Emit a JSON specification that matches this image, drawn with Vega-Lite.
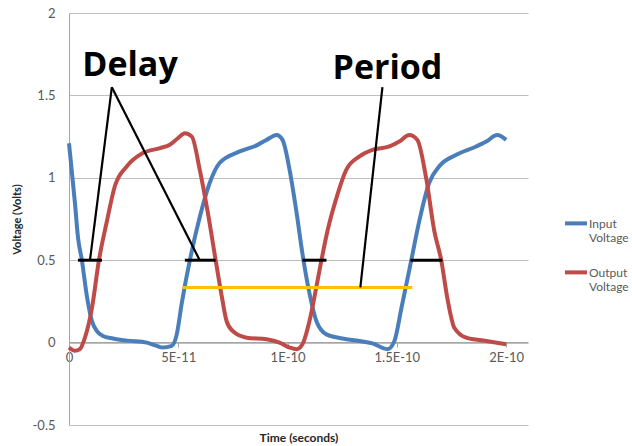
{
  "$schema": "https://vega.github.io/schema/vega-lite/v6.json",
  "width": 459,
  "height": 412,
  "autosize": {"type": "none"},
  "padding": {"left": 69, "top": 13, "right": 104, "bottom": 21},
  "background": "white",
  "config": {"view": {"stroke": null}, "font": "Lato"},
  "datasets": {
    "curves": [
      {"series": "Input Voltage", "t": 0, "v": 1.21},
      {"series": "Input Voltage", "t": 0.27e-11, "v": 0.85},
      {"series": "Input Voltage", "t": 0.41e-11, "v": 0.64},
      {"series": "Input Voltage", "t": 0.59e-11, "v": 0.5},
      {"series": "Input Voltage", "t": 0.82e-11, "v": 0.28},
      {"series": "Input Voltage", "t": 1.05e-11, "v": 0.13},
      {"series": "Input Voltage", "t": 1.28e-11, "v": 0.07},
      {"series": "Input Voltage", "t": 1.55e-11, "v": 0.04},
      {"series": "Input Voltage", "t": 2.01e-11, "v": 0.025},
      {"series": "Input Voltage", "t": 2.65e-11, "v": 0.012},
      {"series": "Input Voltage", "t": 3.56e-11, "v": 0.0},
      {"series": "Input Voltage", "t": 4.02e-11, "v": -0.02},
      {"series": "Input Voltage", "t": 4.29e-11, "v": -0.03},
      {"series": "Input Voltage", "t": 4.70e-11, "v": -0.02},
      {"series": "Input Voltage", "t": 4.93e-11, "v": 0.05},
      {"series": "Input Voltage", "t": 5.16e-11, "v": 0.24},
      {"series": "Input Voltage", "t": 5.53e-11, "v": 0.5},
      {"series": "Input Voltage", "t": 5.98e-11, "v": 0.76},
      {"series": "Input Voltage", "t": 6.44e-11, "v": 0.97},
      {"series": "Input Voltage", "t": 6.89e-11, "v": 1.09},
      {"series": "Input Voltage", "t": 7.81e-11, "v": 1.16},
      {"series": "Input Voltage", "t": 8.63e-11, "v": 1.2},
      {"series": "Input Voltage", "t": 9.04e-11, "v": 1.23},
      {"series": "Input Voltage", "t": 9.50e-11, "v": 1.26},
      {"series": "Input Voltage", "t": 9.77e-11, "v": 1.23},
      {"series": "Input Voltage", "t": 10.09e-11, "v": 1.05},
      {"series": "Input Voltage", "t": 10.41e-11, "v": 0.79},
      {"series": "Input Voltage", "t": 10.68e-11, "v": 0.54},
      {"series": "Input Voltage", "t": 11.0e-11, "v": 0.30},
      {"series": "Input Voltage", "t": 11.32e-11, "v": 0.13},
      {"series": "Input Voltage", "t": 11.78e-11, "v": 0.05},
      {"series": "Input Voltage", "t": 12.51e-11, "v": 0.025},
      {"series": "Input Voltage", "t": 13.29e-11, "v": 0.01},
      {"series": "Input Voltage", "t": 13.88e-11, "v": -0.005},
      {"series": "Input Voltage", "t": 14.57e-11, "v": -0.04},
      {"series": "Input Voltage", "t": 14.89e-11, "v": 0.01},
      {"series": "Input Voltage", "t": 15.21e-11, "v": 0.21},
      {"series": "Input Voltage", "t": 15.66e-11, "v": 0.5},
      {"series": "Input Voltage", "t": 16.03e-11, "v": 0.74},
      {"series": "Input Voltage", "t": 16.48e-11, "v": 0.97},
      {"series": "Input Voltage", "t": 16.94e-11, "v": 1.07},
      {"series": "Input Voltage", "t": 17.72e-11, "v": 1.14},
      {"series": "Input Voltage", "t": 18.63e-11, "v": 1.19},
      {"series": "Input Voltage", "t": 19.09e-11, "v": 1.22},
      {"series": "Input Voltage", "t": 19.59e-11, "v": 1.26},
      {"series": "Input Voltage", "t": 20.0e-11, "v": 1.23},
      {"series": "Output Voltage", "t": 0, "v": -0.03},
      {"series": "Output Voltage", "t": 0.27e-11, "v": -0.05},
      {"series": "Output Voltage", "t": 0.50e-11, "v": -0.04},
      {"series": "Output Voltage", "t": 0.73e-11, "v": 0.03},
      {"series": "Output Voltage", "t": 1.05e-11, "v": 0.21},
      {"series": "Output Voltage", "t": 1.37e-11, "v": 0.5},
      {"series": "Output Voltage", "t": 1.74e-11, "v": 0.74},
      {"series": "Output Voltage", "t": 2.10e-11, "v": 0.95},
      {"series": "Output Voltage", "t": 2.65e-11, "v": 1.07},
      {"series": "Output Voltage", "t": 3.38e-11, "v": 1.15},
      {"series": "Output Voltage", "t": 4.16e-11, "v": 1.18},
      {"series": "Output Voltage", "t": 4.61e-11, "v": 1.2},
      {"series": "Output Voltage", "t": 4.98e-11, "v": 1.24},
      {"series": "Output Voltage", "t": 5.30e-11, "v": 1.27},
      {"series": "Output Voltage", "t": 5.62e-11, "v": 1.25},
      {"series": "Output Voltage", "t": 5.98e-11, "v": 1.05},
      {"series": "Output Voltage", "t": 6.35e-11, "v": 0.79},
      {"series": "Output Voltage", "t": 6.71e-11, "v": 0.5},
      {"series": "Output Voltage", "t": 6.99e-11, "v": 0.28},
      {"series": "Output Voltage", "t": 7.21e-11, "v": 0.13},
      {"series": "Output Voltage", "t": 7.49e-11, "v": 0.07},
      {"series": "Output Voltage", "t": 8.13e-11, "v": 0.03},
      {"series": "Output Voltage", "t": 9.04e-11, "v": 0.02},
      {"series": "Output Voltage", "t": 9.63e-11, "v": 0.0},
      {"series": "Output Voltage", "t": 10.09e-11, "v": -0.03},
      {"series": "Output Voltage", "t": 10.41e-11, "v": -0.04},
      {"series": "Output Voltage", "t": 10.68e-11, "v": -0.01},
      {"series": "Output Voltage", "t": 11.0e-11, "v": 0.13},
      {"series": "Output Voltage", "t": 11.32e-11, "v": 0.34},
      {"series": "Output Voltage", "t": 11.55e-11, "v": 0.5},
      {"series": "Output Voltage", "t": 11.83e-11, "v": 0.68},
      {"series": "Output Voltage", "t": 12.24e-11, "v": 0.88},
      {"series": "Output Voltage", "t": 12.69e-11, "v": 1.05},
      {"series": "Output Voltage", "t": 13.29e-11, "v": 1.13},
      {"series": "Output Voltage", "t": 13.88e-11, "v": 1.17},
      {"series": "Output Voltage", "t": 14.66e-11, "v": 1.19},
      {"series": "Output Voltage", "t": 15.11e-11, "v": 1.22},
      {"series": "Output Voltage", "t": 15.57e-11, "v": 1.26},
      {"series": "Output Voltage", "t": 15.94e-11, "v": 1.23},
      {"series": "Output Voltage", "t": 16.35e-11, "v": 0.99},
      {"series": "Output Voltage", "t": 16.71e-11, "v": 0.68},
      {"series": "Output Voltage", "t": 17.03e-11, "v": 0.5},
      {"series": "Output Voltage", "t": 17.31e-11, "v": 0.27},
      {"series": "Output Voltage", "t": 17.63e-11, "v": 0.09},
      {"series": "Output Voltage", "t": 18.17e-11, "v": 0.03},
      {"series": "Output Voltage", "t": 19.09e-11, "v": 0.01},
      {"series": "Output Voltage", "t": 20.0e-11, "v": -0.01}
    ],
    "pointers": [
      {"t": 1.96e-11, "v": 1.55, "t2": 0.96e-11, "v2": 0.5},
      {"t": 1.96e-11, "v": 1.55, "t2": 5.98e-11, "v2": 0.5},
      {"t": 14.34e-11, "v": 1.55, "t2": 13.33e-11, "v2": 0.335}
    ],
    "segments": [
      {"t": 0.41e-11, "v": 0.5, "t2": 1.51e-11, "v2": 0.5},
      {"t": 5.30e-11, "v": 0.5, "t2": 6.71e-11, "v2": 0.5},
      {"t": 10.68e-11, "v": 0.5, "t2": 11.78e-11, "v2": 0.5},
      {"t": 15.62e-11, "v": 0.5, "t2": 17.08e-11, "v2": 0.5}
    ],
    "period": [
      {"t": 5.2e-11, "v": 0.335, "t2": 15.7e-11, "v2": 0.335}
    ],
    "labels": [
      {"label": "Delay", "t": 2.79e-11, "v": 1.62},
      {"label": "Period", "t": 14.57e-11, "v": 1.6}
    ]
  },
  "encoding": {
    "x": {
      "field": "t",
      "type": "quantitative",
      "scale": {"domain": [0, 2.1e-10], "nice": false, "zero": false},
      "axis": {
        "values": [0, 5e-11, 1e-10, 1.5e-10, 2e-10],
        "labelExpr": "datum.value == 0 ? '0' : upper(format(datum.value, '~e'))",
        "labelFlush": false,
        "offset": -83,
        "grid": false,
        "domainColor": "#a6a6a6",
        "tickColor": "#a6a6a6",
        "tickSize": 5,
        "labelPadding": 4,
        "labelColor": "#595959",
        "labelFontSize": 13,
        "labelFont": "Lato",
        "title": "Time (seconds)",
        "titleFont": "Lato",
        "titleFontSize": 12,
        "titleFontWeight": "bold",
        "titleColor": "#262626",
        "titleY": 95,
        "titleBaseline": "middle"
      }
    },
    "y": {
      "field": "v",
      "type": "quantitative",
      "scale": {"domain": [-0.5, 2], "nice": false, "zero": false},
      "axis": {
        "values": [-0.5, 0, 0.5, 1, 1.5, 2],
        "labelExpr": "datum.value < 0 ? '-' + format(-datum.value, '~g') : format(datum.value, '~g')",
        "grid": true,
        "gridColor": "#bfbfbf",
        "domainColor": "#a6a6a6",
        "ticks": false,
        "labelPadding": 14,
        "labelFontSize": 13,
        "labelFont": "Lato",
        "labelColor": "#595959",
        "title": "Voltage (Volts)",
        "titleFont": "Lato",
        "titleFontSize": 11,
        "titleFontWeight": "bold",
        "titleColor": "#262626",
        "titlePadding": 10
      }
    }
  },
  "layer": [
    {
      "data": {"name": "curves"},
      "mark": {"type": "line", "strokeWidth": 4, "interpolate": "monotone"},
      "encoding": {
        "color": {
          "field": "series",
          "type": "nominal",
          "scale": {"domain": ["Input Voltage", "Output Voltage"], "range": ["#4A7EBB", "#BE4B48"]},
          "legend": {
            "title": null,
            "orient": "none",
            "legendX": 494,
            "legendY": 202,
            "symbolType": "M-1,-0.42L1,-0.42",
            "symbolStrokeWidth": 4,
            "symbolSize": 484,
            "labelFont": "Lato",
            "labelFontSize": 12,
            "labelColor": "#595959",
            "labelExpr": "split(datum.label, ' ')",
            "labelBaseline": "alphabetic",
            "labelOffset": 0,
            "rowPadding": 20,
            "padding": 0
          }
        }
      }
    },
    {
      "data": {"name": "period"},
      "mark": {"type": "rule", "color": "#FFC000", "strokeWidth": 3},
      "encoding": {"x2": {"field": "t2"}, "y2": {"field": "v2"}}
    },
    {
      "data": {"name": "pointers"},
      "mark": {"type": "rule", "color": "#000000", "strokeWidth": 2.2},
      "encoding": {"x2": {"field": "t2"}, "y2": {"field": "v2"}}
    },
    {
      "data": {"name": "segments"},
      "mark": {"type": "rule", "color": "#000000", "strokeWidth": 3},
      "encoding": {"x2": {"field": "t2"}, "y2": {"field": "v2"}}
    },
    {
      "data": {"name": "labels"},
      "mark": {"type": "text", "font": "Open Sans", "fontWeight": "bold", "fontSize": 34, "align": "center", "baseline": "alphabetic", "color": "#000000"},
      "encoding": {"text": {"field": "label"}}
    }
  ]
}
